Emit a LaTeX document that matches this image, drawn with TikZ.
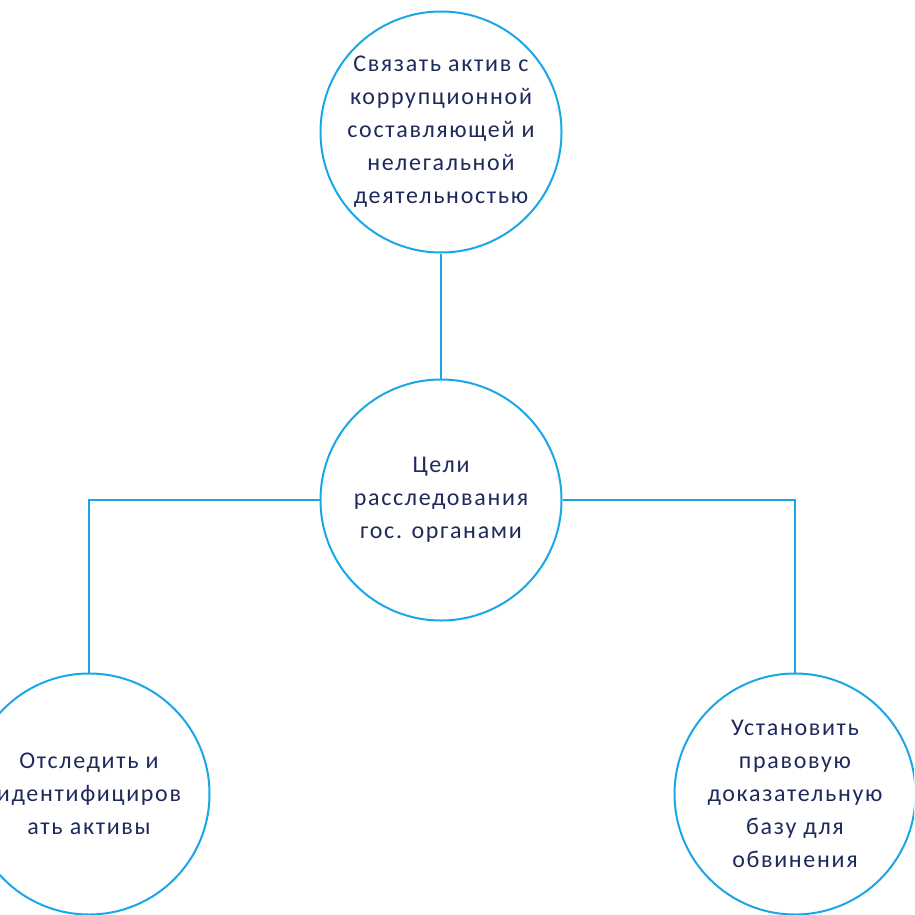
\documentclass[tikz,border=0pt]{standalone}
\usepackage{fontspec}
\setmainfont{Carlito}
\newfontfamily\goalfont[LetterSpace=7]{Carlito}
\definecolor{ringblue}{HTML}{1AA7E8}
\definecolor{textnavy}{HTML}{1F2A5C}
\begin{document}
\begin{tikzpicture}[x=1pt,y=-1pt,
  goal/.style={circle,draw=ringblue,line width=2pt,minimum size=241pt,inner sep=0pt,
    text=textnavy,align=center,font=\goalfont\fontsize{24}{33}\selectfont},
  link/.style={draw=ringblue,line width=1.6pt}]
\clip (0,0) rectangle (914,915);
\node[goal] (top) at (441,132) {Связать актив с\\коррупционной\\составляющей и\\нелегальной\\деятельностью};
\node[goal] (mid) at (441,500) {Цели\\расследования\\гос. органами};
\node[goal] (left) at (89,794) {Отследить и\\идентифициров\\ать активы};
\node[goal] (right) at (795,794) {Установить\\правовую\\доказательную\\базу для\\обвинения};
\draw[link] (top.south) -- (mid.north);
\draw[link] (mid.west) -| (left.north);
\draw[link] (mid.east) -| (right.north);
\end{tikzpicture}
\end{document}
